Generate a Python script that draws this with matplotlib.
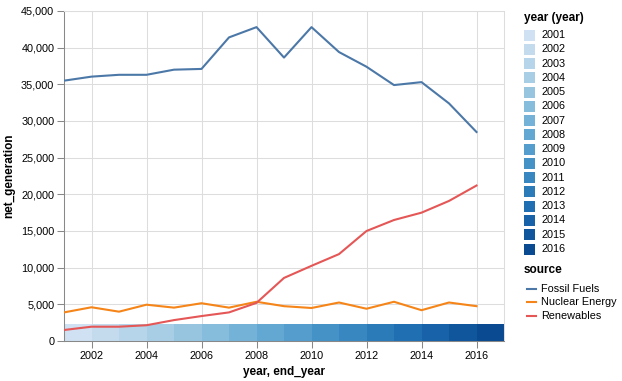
import matplotlib
matplotlib.use("Agg")
from matplotlib import pyplot as plt
from matplotlib.colors import LinearSegmentedColormap
from matplotlib.patches import Rectangle
from matplotlib.lines import Line2D

plt.rcParams["font.family"] = ["Liberation Sans", "DejaVu Sans"]

years = list(range(2001, 2017))
end_years = [y + 1 for y in years]
sources = ["Fossil Fuels", "Nuclear Energy", "Renewables"]
fossil = [35500, 36050, 36300, 36300, 37000, 37100, 41400, 42800, 38650,
          42800, 39400, 37400, 34900, 35300, 32400, 28500]
nuclear = [3900, 4600, 4000, 4950, 4550, 5150, 4550, 5350, 4750,
           4500, 5250, 4400, 5350, 4200, 5250, 4750]
renewables = [1500, 1950, 1950, 2150, 2850, 3400, 3900, 5200, 8600,
              10250, 11850, 15000, 16500, 17500, 19100, 21200]
band_height = 2300

source_colors = ["#4c78a8", "#f58518", "#e45756"]
blues = LinearSegmentedColormap.from_list(
    "vega_blues", ["#cfe1f2", "#bed8ec", "#a8cee5", "#8fc1de", "#74b2d7",
                   "#5ba3cf", "#4592c6", "#3181bd", "#206fb2", "#125ca4", "#0a4a90"])
year_colors = [blues(i / (len(years) - 1)) for i in range(len(years))]

W, H = 622, 381
fig = plt.figure(figsize=(W / 100, H / 100), dpi=100)
px = lambda x, y: (x / W, 1 - y / H)

left, right, top, bottom = 64, 504, 11, 341
ax = fig.add_axes([left / W, 1 - bottom / H, (right - left) / W, (bottom - top) / H])

# year band
ax.bar(years, band_height, width=[e - s for s, e in zip(years, end_years)],
       align="edge", color=year_colors, linewidth=0, zorder=2)

for vals, c in zip([fossil, nuclear, renewables], source_colors):
    ax.plot(years, vals, color=c, linewidth=1.5, zorder=3)

ax.set_xlim(2001, 2017)
ax.set_ylim(0, 45000)
ax.set_xticks(range(2002, 2017, 2))
ax.set_yticks(range(0, 45001, 5000))
ax.set_yticklabels([f"{v:,}" for v in range(0, 45001, 5000)])
ax.grid(True, color="#dddddd", linewidth=0.75, zorder=0)
ax.set_axisbelow(True)
for s in ["top", "right"]:
    ax.spines[s].set_color("#dddddd")
    ax.spines[s].set_linewidth(0.75)
for s in ["left", "bottom"]:
    ax.spines[s].set_color("#888888")
    ax.spines[s].set_linewidth(0.75)
ax.tick_params(colors="#888888", labelcolor="black", labelsize=7.8, length=5, width=0.75, pad=2)
ax.set_xlabel("year, end_year", fontsize=8.5, fontweight="bold", labelpad=4)
ax.set_ylabel("net_generation", fontsize=8.5, fontweight="bold", labelpad=4)

# legends
fig.text(*px(524, 18), "year (year)", fontsize=8.5, fontweight="bold", va="center", ha="left")
step = (249 - 35) / 15
for i, (yr, c) in enumerate(zip(years, year_colors)):
    yc = 35 + i * step
    x0, y0 = px(524, yc + 5.5)
    fig.patches.append(Rectangle((x0, y0), 11 / W, 11 / H, transform=fig.transFigure,
                                 facecolor=c, edgecolor="none"))
    fig.text(*px(541, yc), str(yr), fontsize=7.8, va="center", ha="left")

fig.text(*px(524, 270), "source", fontsize=8.5, fontweight="bold", va="center", ha="left")
for i, (name, c) in enumerate(zip(sources, source_colors)):
    yc = 288.5 + i * 13.8
    xa, ya = px(527, yc)
    xb, _ = px(536, yc)
    fig.lines.append(Line2D([xa, xb], [ya, ya], transform=fig.transFigure, color=c, linewidth=1.5))
    fig.text(*px(541, yc), name, fontsize=7.8, va="center", ha="left")

fig.savefig("out.png", dpi=100)
